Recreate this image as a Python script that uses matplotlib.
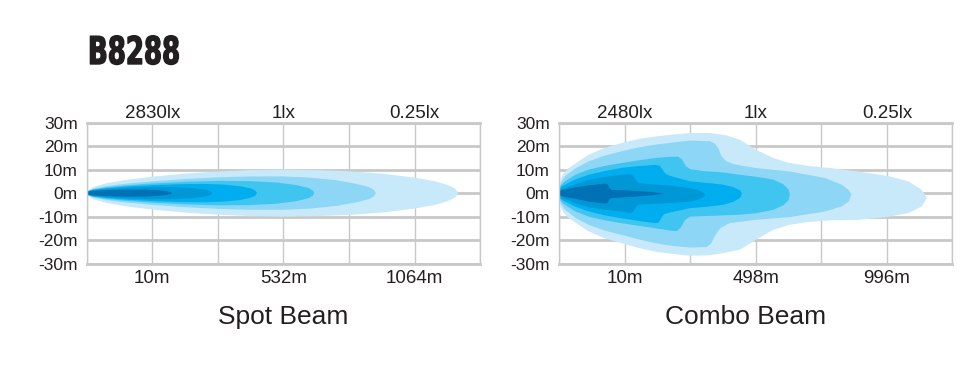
import matplotlib
matplotlib.use('Agg')
import matplotlib.pyplot as plt
from matplotlib import patheffects
from matplotlib.transforms import Affine2D

plt.rcParams['font.family'] = ['Liberation Sans', 'DejaVu Sans']

# layer colours, outermost (weakest) to innermost (strongest)
colors = ['#c8e9f9', '#8dd6f5', '#3fc5f0', '#00adee', '#0097d7', '#0071b4']
grid_color = '#c8c8c8'

# axes: x in grid units (0..6), y in metres
y_ticks = [30, 20, 10, 0, -10, -20, -30]
y_labels = ['30m', '20m', '10m', '0m', '-10m', '-20m', '-30m']

spot_dist_labels = ['10m', '532m', '1064m']
spot_lux_labels = ['2830lx', '1lx', '0.25lx']
combo_dist_labels = ['10m', '498m', '996m']
combo_lux_labels = ['2480lx', '1lx', '0.25lx']
label_pos = [1, 3, 5]

# Spot beam: symmetric, x positions and half widths per layer
spot_x = [
    [0, 0.02, 0.1, 0.3, 0.6, 1.0, 1.5, 2.0, 2.5, 3.0, 3.5, 4.0, 4.5, 5.0, 5.3, 5.5, 5.62, 5.67],
    [0, 0.02, 0.1, 0.3, 0.6, 1.0, 1.5, 2.0, 2.5, 3.0, 3.4, 3.8, 4.1, 4.3, 4.38, 4.41],
    [0, 0.02, 0.1, 0.3, 0.6, 1.0, 1.5, 2.0, 2.5, 2.9, 3.2, 3.38, 3.45, 3.47],
    [0, 0.02, 0.1, 0.3, 0.6, 1.0, 1.4, 1.8, 2.1, 2.35, 2.5, 2.57, 2.6],
    [0, 0.02, 0.1, 0.3, 0.6, 1.0, 1.3, 1.55, 1.75, 1.87, 1.92],
    [0, 0.02, 0.1, 0.3, 0.6, 0.9, 1.1, 1.22, 1.28, 1.30],
]
spot_w = [
    [0, 1.2, 2.6, 4.2, 5.6, 7.0, 8.3, 9.2, 9.8, 10.0, 9.8, 9.3, 8.3, 6.6, 5.1, 3.5, 1.9, 0],
    [0, 1.0, 1.9, 3.0, 4.0, 5.0, 6.0, 6.7, 7.1, 7.1, 6.6, 5.5, 4.0, 2.6, 1.4, 0],
    [0, 0.9, 1.6, 2.5, 3.3, 4.1, 4.8, 5.2, 5.1, 4.5, 3.4, 2.2, 1.1, 0],
    [0, 0.8, 1.4, 2.1, 2.8, 3.4, 3.8, 3.9, 3.6, 2.9, 2.0, 1.1, 0],
    [0, 0.7, 1.2, 1.7, 2.2, 2.6, 2.6, 2.3, 1.7, 1.0, 0],
    [0, 0.6, 1.0, 1.3, 1.5, 1.5, 1.2, 0.8, 0.4, 0],
]

# Combo beam: upper and lower outlines per layer
combo_up_x = [
    [0, 0.003, 0.02, 0.06, 0.14, 0.3, 0.45, 0.7, 0.95, 1.2, 1.46, 1.75, 2.0, 2.3, 2.55, 2.76, 3.0, 3.27, 3.52, 3.8, 4.13, 4.56, 5.0, 5.33, 5.53, 5.61],
    [0, 0.005, 0.03, 0.09, 0.25, 0.45, 0.7, 0.95, 1.2, 1.46, 1.75, 2.0, 2.3, 2.38, 2.43, 2.48, 2.55, 2.66, 3.0, 3.52, 4.06, 4.31, 4.42, 4.46],
    [0, 0.005, 0.03, 0.09, 0.25, 0.45, 0.7, 0.95, 1.2, 1.46, 1.7, 1.82, 1.88, 1.93, 2.0, 2.2, 2.5, 2.76, 3.0, 3.27, 3.42, 3.5, 3.52],
    [0, 0.005, 0.03, 0.09, 0.25, 0.45, 0.7, 0.95, 1.2, 1.46, 1.53, 1.58, 1.62, 1.7, 2.0, 2.3, 2.5, 2.65, 2.76, 2.79],
    [0, 0.005, 0.03, 0.09, 0.25, 0.45, 0.7, 0.95, 1.08, 1.13, 1.17, 1.21, 1.4, 1.7, 2.0, 2.12, 2.2, 2.23],
    [0, 0.01, 0.05, 0.19, 0.45, 0.7, 0.74, 0.77, 0.8, 1.0, 1.2, 1.4, 1.52, 1.59],
]
combo_up_y = [
    [0, 3.0, 5.5, 8.0, 10.5, 13.5, 16.3, 19.3, 21.3, 23.0, 24.1, 25.0, 25.6, 25.6, 24.6, 22.7, 18.5, 14.9, 12.8, 11.6, 10.7, 9.2, 7.4, 5.0, 1.4, -2.1],
    [0, 2.5, 4.5, 7.1, 10.5, 13.5, 16.0, 17.8, 19.4, 20.6, 21.6, 22.4, 22.1, 21.0, 19.0, 15.6, 13.6, 12.3, 10.7, 9.2, 6.4, 3.6, 1.2, -0.7],
    [0, 2.0, 3.5, 5.0, 7.8, 10.0, 11.6, 12.8, 13.9, 14.9, 15.5, 15.5, 14.2, 11.5, 10.2, 9.4, 8.8, 7.8, 7.0, 5.7, 3.8, 1.5, -0.5],
    [0, 1.5, 2.6, 3.6, 5.8, 7.8, 9.4, 10.7, 11.5, 12.0, 11.8, 10.0, 8.3, 7.3, 5.0, 4.2, 3.6, 2.6, 1.2, -0.3],
    [0, 1.0, 1.6, 2.1, 3.8, 5.7, 6.9, 7.8, 8.1, 7.5, 5.5, 4.3, 3.8, 3.2, 2.1, 1.2, 0.2, -0.7],
    [0, 0.8, 1.4, 2.1, 3.3, 4.0, 3.7, 2.2, 1.4, 1.2, 0.9, 0.5, 0.1, -0.3],
]
combo_lo_x = [
    [0, 0.003, 0.02, 0.06, 0.14, 0.3, 0.45, 0.7, 0.95, 1.2, 1.46, 1.75, 2.0, 2.3, 2.5, 2.76, 3.0, 3.27, 3.52, 3.8, 4.13, 4.56, 5.0, 5.33, 5.53, 5.61],
    [0, 0.005, 0.03, 0.09, 0.25, 0.45, 0.7, 0.95, 1.2, 1.46, 1.75, 2.0, 2.25, 2.32, 2.38, 2.46, 2.6, 3.0, 3.52, 4.06, 4.31, 4.42, 4.46],
    [0, 0.005, 0.03, 0.09, 0.25, 0.45, 0.7, 0.95, 1.2, 1.46, 1.7, 1.8, 1.86, 1.92, 2.0, 2.4, 2.76, 3.0, 3.27, 3.42, 3.5],
    [0, 0.005, 0.03, 0.09, 0.25, 0.45, 0.7, 0.95, 1.2, 1.46, 1.52, 1.56, 1.6, 1.7, 2.0, 2.3, 2.5, 2.65, 2.76],
    [0, 0.005, 0.03, 0.09, 0.25, 0.45, 0.7, 0.95, 1.08, 1.13, 1.17, 1.21, 1.4, 1.7, 2.0, 2.12, 2.2],
    [0, 0.01, 0.05, 0.19, 0.45, 0.7, 0.74, 0.77, 0.8, 1.0, 1.2, 1.4, 1.52, 1.59],
]
combo_lo_y = [
    [0, -3.0, -5.5, -8.0, -10.5, -13.5, -16.3, -19.3, -21.3, -23.3, -24.9, -26.0, -26.7, -26.5, -25.6, -24.1, -19.9, -15.6, -13.5, -12.3, -11.6, -11.4, -10.2, -8.5, -5.7, -2.1],
    [0, -2.5, -4.5, -7.1, -10.5, -13.5, -16.0, -17.8, -19.6, -21.3, -22.6, -23.2, -23.0, -21.5, -18.0, -14.9, -12.8, -11.4, -10.2, -7.8, -5.7, -3.5, -0.7],
    [0, -2.0, -3.5, -5.0, -7.8, -10.0, -11.6, -12.8, -13.9, -14.9, -16.0, -16.2, -14.5, -11.5, -10.0, -9.6, -9.2, -8.6, -7.1, -5.2, -3.0],
    [0, -1.5, -2.6, -3.6, -5.8, -7.8, -9.5, -10.7, -11.8, -12.8, -12.6, -10.5, -9.0, -8.2, -6.4, -5.7, -5.0, -3.8, -2.1],
    [0, -1.0, -1.6, -2.4, -4.3, -6.0, -7.1, -7.8, -8.5, -8.0, -6.0, -5.0, -4.6, -4.2, -3.6, -2.8, -1.6],
    [0, -0.8, -1.4, -2.1, -3.6, -4.5, -4.2, -2.6, -2.1, -1.8, -1.4, -1.0, -0.6, -0.3],
]


class Squeeze(patheffects.AbstractPathEffect):
    """Draw text squeezed horizontally (condensed) and slightly emboldened."""

    def __init__(self, sx, x0, lw):
        super().__init__()
        self.sx, self.x0, self.lw = sx, x0, lw

    def draw_path(self, renderer, gc, tpath, affine, rgbFace=None):
        squeeze = Affine2D().translate(-self.x0, 0).scale(self.sx, 1).translate(self.x0, 0)
        gc0 = renderer.new_gc()
        gc0.copy_properties(gc)
        gc0.set_linewidth(self.lw)
        gc0.set_foreground(rgbFace)
        renderer.draw_path(gc0, tpath, affine + squeeze, rgbFace)
        gc0.restore()


def setup_axes(ax, dist_labels, lux_labels):
    ax.set_xlim(0, 6)
    ax.set_ylim(-30, 30)
    ax.set_axisbelow(True)
    ax.set_xticks(range(7))
    ax.set_xticklabels(['', dist_labels[0], '', dist_labels[1], '', dist_labels[2], ''])
    ax.set_yticks(y_ticks)
    ax.set_yticklabels(y_labels)
    ax.tick_params(length=0, labelsize=13.5, pad=5, colors='#231f20')
    ax.tick_params(axis='y', labelsize=12.5, pad=6.5)
    ax.xaxis.grid(True, color=grid_color, lw=1.0)
    ax.yaxis.grid(True, color=grid_color, lw=2.0)
    for side in ['top', 'bottom']:
        ax.spines[side].set_color(grid_color)
        ax.spines[side].set_linewidth(2.0)
    for side in ['left', 'right']:
        ax.spines[side].set_color(grid_color)
        ax.spines[side].set_linewidth(1.0)
    top = ax.secondary_xaxis('top')
    top.set_xticks(label_pos)
    top.set_xticklabels(lux_labels)
    top.tick_params(length=0, labelsize=13.5, pad=0.8, colors='#231f20')
    top.spines['top'].set_visible(False)


fig = plt.figure(figsize=(9.78, 3.92), dpi=100)
ax1 = fig.add_axes([0.0887, 0.3278, 0.4022, 0.3592])
ax2 = fig.add_axes([0.5716, 0.3278, 0.4023, 0.3592])

setup_axes(ax1, spot_dist_labels, spot_lux_labels)
setup_axes(ax2, combo_dist_labels, combo_lux_labels)

# spot beam layers
for xs, ws, c in zip(spot_x, spot_w, colors):
    px = xs + xs[::-1]
    py = ws + [-w for w in ws[::-1]]
    ax1.fill(px, py, color=c, lw=0, zorder=2)

# combo beam layers
for ux, uy, lx, ly, c in zip(combo_up_x, combo_up_y, combo_lo_x, combo_lo_y, colors):
    px = ux + lx[::-1]
    py = uy + ly[::-1]
    ax2.fill(px, py, color=c, lw=0, zorder=2)

fig.text(283 / 978, 1 - 316.7 / 392, 'Spot Beam', ha='center', va='center',
         fontsize=19, color='#231f20')
fig.text(746 / 978, 1 - 316.7 / 392, 'Combo Beam', ha='center', va='center',
         fontsize=19, color='#231f20')
fig.text(88 / 978, 1 - 54 / 392, 'B8288', ha='left', va='center',
         fontsize=27.5, fontweight='bold', color='#231f20',
         family='DejaVu Sans',
         path_effects=[Squeeze(0.68, 88, 1.0)])

fig.savefig('out.png', dpi=100)
